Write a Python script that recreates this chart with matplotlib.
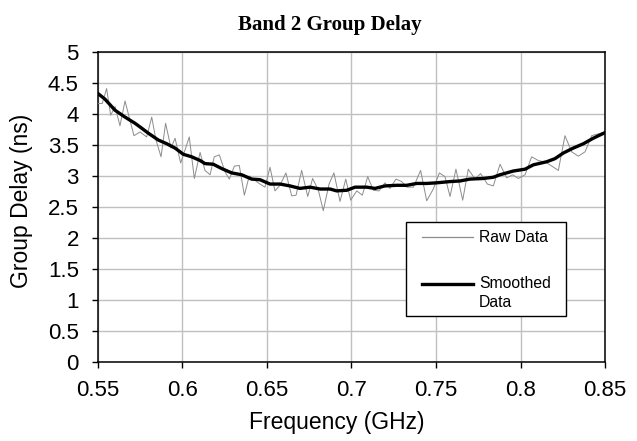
import matplotlib
matplotlib.use("Agg")
import matplotlib.pyplot as plt
from matplotlib.patches import Rectangle
from matplotlib.lines import Line2D

raw_freq = [0.5500, 0.5525, 0.5551, 0.5575, 0.5601, 0.5630, 0.5660, 0.5689, 0.5713, 0.5749,
            0.5788, 0.5818, 0.5843, 0.5873, 0.5900, 0.5932, 0.5956, 0.5989, 0.6015, 0.6040,
            0.6070, 0.6104, 0.6133, 0.6163, 0.6188, 0.6218, 0.6251, 0.6277, 0.6307, 0.6336,
            0.6366, 0.6395, 0.6425, 0.6453, 0.6488, 0.6518, 0.6547, 0.6577, 0.6612, 0.6646,
            0.6672, 0.6705, 0.6741, 0.6770, 0.6804, 0.6833, 0.6867, 0.6896, 0.6932, 0.6966,
            0.6995, 0.7031, 0.7064, 0.7096, 0.7129, 0.7163, 0.7198, 0.7228, 0.7263, 0.7297,
            0.7327, 0.7366, 0.7409, 0.7445, 0.7484, 0.7520, 0.7553, 0.7583, 0.7618, 0.7658,
            0.7691, 0.7731, 0.7764, 0.7804, 0.7839, 0.7879, 0.7918, 0.7954, 0.7987, 0.8027,
            0.8066, 0.8105, 0.8151, 0.8185, 0.8224, 0.8263, 0.8303, 0.8342, 0.8382, 0.8421,
            0.8460, 0.8488]
raw_delay = [4.17, 4.17, 4.41, 3.98, 4.12, 3.81, 4.21, 3.90, 3.65, 3.71,
             3.63, 3.95, 3.58, 3.31, 3.85, 3.45, 3.61, 3.21, 3.42, 3.63,
             2.96, 3.38, 3.09, 3.02, 3.31, 3.34, 3.07, 2.95, 3.16, 3.17,
             2.69, 3.00, 2.94, 2.88, 2.82, 3.14, 2.76, 2.85, 3.05, 2.68,
             2.69, 3.09, 2.67, 2.96, 2.77, 2.44, 2.87, 3.05, 2.59, 2.95,
             2.61, 2.76, 2.69, 2.99, 2.77, 2.76, 2.89, 2.80, 2.95, 2.91,
             2.82, 2.82, 3.09, 2.60, 2.79, 3.05, 2.99, 2.67, 3.11, 2.61,
             3.11, 2.95, 3.04, 2.87, 2.84, 3.19, 2.97, 3.02, 2.96, 3.02,
             3.31, 3.25, 3.22, 3.16, 3.09, 3.65, 3.39, 3.32, 3.39, 3.65,
             3.68, 3.70]

smooth_freq = [0.5500, 0.5541, 0.5601, 0.5660, 0.5719, 0.5759, 0.5798, 0.5857, 0.5907, 0.5956,
               0.6005, 0.6054, 0.6104, 0.6133, 0.6182, 0.6232, 0.6291, 0.6350, 0.6409, 0.6459,
               0.6518, 0.6577, 0.6636, 0.6695, 0.6754, 0.6814, 0.6873, 0.6912, 0.6972, 0.7021,
               0.7090, 0.7139, 0.7198, 0.7267, 0.7327, 0.7386, 0.7445, 0.7504, 0.7583, 0.7642,
               0.7701, 0.7780, 0.7839, 0.7879, 0.7957, 0.8027, 0.8076, 0.8155, 0.8204, 0.8253,
               0.8312, 0.8372, 0.8431, 0.8500]
smooth_delay = [4.33, 4.24, 4.06, 3.95, 3.85, 3.77, 3.69, 3.58, 3.52, 3.45,
                3.35, 3.31, 3.25, 3.20, 3.19, 3.12, 3.05, 3.02, 2.95, 2.94,
                2.87, 2.87, 2.84, 2.80, 2.82, 2.79, 2.79, 2.76, 2.77, 2.82,
                2.82, 2.80, 2.84, 2.85, 2.85, 2.88, 2.88, 2.89, 2.91, 2.92,
                2.95, 2.96, 2.98, 3.02, 3.08, 3.11, 3.18, 3.23, 3.28, 3.37,
                3.45, 3.52, 3.61, 3.70]

x_ticks = [0.55, 0.6, 0.65, 0.7, 0.75, 0.8, 0.85]
x_tick_labels = ["0.55", "0.6", "0.65", "0.7", "0.75", "0.8", "0.85"]
y_ticks = [0, 0.5, 1, 1.5, 2, 2.5, 3, 3.5, 4, 4.5, 5]
y_tick_labels = ["0", "0.5", "1", "1.5", "2", "2.5", "3", "3.5", "4", "4.5", "5"]
series_names = ["Raw Data", "Smoothed", "Data"]

plt.rcParams['font.family'] = ['Liberation Sans', 'DejaVu Sans']

fig = plt.figure(figsize=(6.37, 4.41), dpi=100)
ax = fig.add_axes([98/637, 1-362/441, 507/637, 310/441])

raw_color = '#8c8c8c'
ax.plot(raw_freq, raw_delay, color=raw_color, lw=0.7, zorder=3)
ax.plot(smooth_freq, smooth_delay, color='black', lw=2.4, zorder=4)

ax.set_xlim(0.55, 0.85)
ax.set_ylim(0, 5)
ax.set_xticks(x_ticks)
ax.set_xticklabels(x_tick_labels)
ax.set_yticks(y_ticks)
ax.set_yticklabels(y_tick_labels)
ax.tick_params(axis='both', labelsize=16, direction='out', length=4.3, width=1, colors='black')
ax.tick_params(axis='x', pad=8.5)
ax.tick_params(axis='y', pad=9.5)
ax.grid(True, color='#c0c0c0', lw=1.0, zorder=0)
ax.set_axisbelow(True)
for s in ax.spines.values():
    s.set_color('black')
    s.set_linewidth(1.1)

ax.set_xlabel('Frequency (GHz)', fontsize=16.5)
ax.xaxis.set_label_coords((337-98)/507, -0.158)
ax.set_ylabel('Group Delay (ns)', fontsize=16.5)
ax.yaxis.set_label_coords(-0.128, 0.52)

fig.text(330/637, 1-25/441, 'Band 2 Group Delay', ha='center', va='center',
         fontsize=15, fontweight='bold', family='Liberation Serif')

# Legend (Excel style), in axes coordinates
lx0, lx1, ly0, ly1 = 0.607, 0.924, 0.149, 0.452
ax.add_patch(Rectangle((lx0, ly0), lx1 - lx0, ly1 - ly0, transform=ax.transAxes,
                       facecolor='white', edgecolor='black', lw=1.0, zorder=10))
ax.add_line(Line2D([0.639, 0.740], [0.403, 0.403], transform=ax.transAxes,
                   color=raw_color, lw=0.9, zorder=11))
ax.add_line(Line2D([0.639, 0.740], [0.252, 0.252], transform=ax.transAxes,
                   color='black', lw=2.4, zorder=11))
ax.text(0.751, 0.403, series_names[0], transform=ax.transAxes, fontsize=11.3,
        va='center', ha='left', zorder=12)
ax.text(0.751, 0.252, series_names[1], transform=ax.transAxes, fontsize=11.3,
        va='center', ha='left', zorder=12)
ax.text(0.751, 0.192, series_names[2], transform=ax.transAxes, fontsize=11.3,
        va='center', ha='left', zorder=12)

fig.savefig('out.png', dpi=100)
